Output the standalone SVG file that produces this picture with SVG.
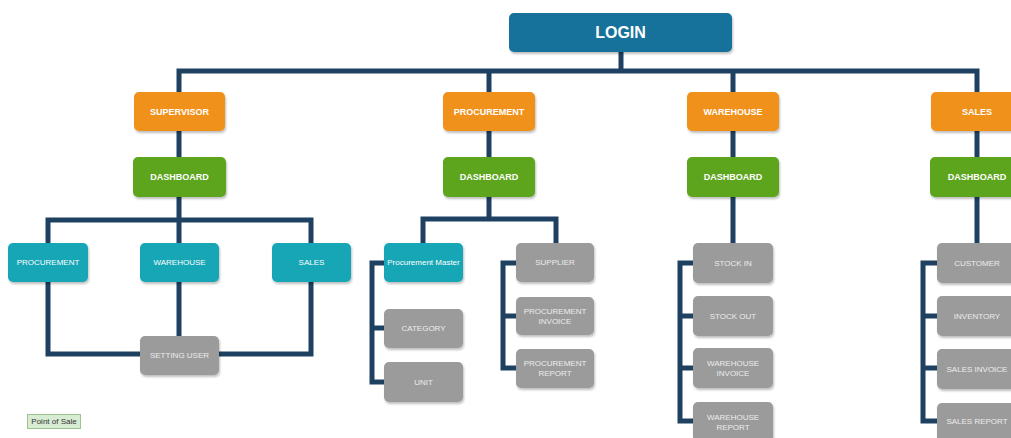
<svg xmlns="http://www.w3.org/2000/svg" width="1011" height="438" viewBox="0 0 1011 438">
<style>
.bx{stroke:none;filter:url(#sh)}
.login{fill:#13729b}
.org{fill:#f0911f}
.grn{fill:#5ba51e}
.tea{fill:#19a6b5}
.gry{fill:#9b9b9b}
.t{font-family:"Liberation Sans",Arial,sans-serif;text-anchor:middle;dominant-baseline:central}
.tb{font-size:9px;font-weight:bold;fill:#ffffff}
.tw{font-size:8px;fill:#ffffff}
.tg{font-size:8px;fill:#ececec}
.c{fill:none;stroke:#1e4161;stroke-width:5;stroke-linejoin:miter}
</style>
<defs>
<filter id="sh" x="-10%" y="-10%" width="125%" height="140%">
<feDropShadow dx="1" dy="2" stdDeviation="1.2" flood-color="#000" flood-opacity="0.25"/>
</filter>
</defs>
<rect width="1011" height="438" fill="#ffffff"/>
<g id="connectors">
<path class="c" d="M621 52V71"/>
<path class="c" d="M179 92V71H977V92M489 71V92M733 71V92"/>
<path class="c" d="M179 131V157M489 131V157M733 131V157M977 131V157"/>
<path class="c" d="M179 197V243M48 243V220H311V243"/>
<path class="c" d="M48 282V354H140M219 354H311V282M179 282V336"/>
<path class="c" d="M489 197V219M423 243V219H556V243"/>
<path class="c" d="M384 263H372V382H384M372 328H384"/>
<path class="c" d="M516 263H503V368H516M503 316H516"/>
<path class="c" d="M733 197V243M693 263H680V421H693M680 316H693M680 368H693"/>
<path class="c" d="M977 197V243M937 263H923V421H937M923 316H937M923 368H937"/>
</g>
<g id="login"><rect class="bx login" x="509" y="13" width="223" height="39" rx="5"/><text class="t" x="620.5" y="32.5" font-size="16" font-weight="bold" fill="#ffffff">LOGIN</text></g>
<g id="supervisor"><rect class="bx org" x="134" y="92" width="91" height="39" rx="5"/><text class="t tb" x="179.5" y="111.5">SUPERVISOR</text></g>
<g id="procurement"><rect class="bx org" x="443" y="92" width="92" height="39" rx="5"/><text class="t tb" x="489" y="111.5">PROCUREMENT</text></g>
<g id="warehouse"><rect class="bx org" x="687" y="92" width="92" height="39" rx="5"/><text class="t tb" x="733" y="111.5">WAREHOUSE</text></g>
<g id="sales"><rect class="bx org" x="931" y="92" width="92" height="39" rx="5"/><text class="t tb" x="977" y="111.5">SALES</text></g>
<g id="dash-sup"><rect class="bx grn" x="133" y="157" width="93" height="40" rx="5"/><text class="t tb" x="179.5" y="177">DASHBOARD</text></g>
<g id="dash-proc"><rect class="bx grn" x="443" y="157" width="92" height="40" rx="5"/><text class="t tb" x="489" y="177">DASHBOARD</text></g>
<g id="dash-wh"><rect class="bx grn" x="687" y="157" width="92" height="40" rx="5"/><text class="t tb" x="733" y="177">DASHBOARD</text></g>
<g id="dash-sales"><rect class="bx grn" x="930" y="157" width="93" height="40" rx="5"/><text class="t tb" x="977" y="177">DASHBOARD</text></g>
<g id="sup-procurement"><rect class="bx tea" x="8" y="243" width="80" height="39" rx="5"/><text class="t tw" x="48" y="262.5">PROCUREMENT</text></g>
<g id="sup-warehouse"><rect class="bx tea" x="140" y="243" width="79" height="39" rx="5"/><text class="t tw" x="179.5" y="262.5">WAREHOUSE</text></g>
<g id="sup-sales"><rect class="bx tea" x="272" y="243" width="79" height="39" rx="5"/><text class="t tw" x="311.5" y="262.5">SALES</text></g>
<g id="setting-user"><rect class="bx gry" x="140" y="336" width="79" height="39" rx="5"/><text class="t tg" x="179.5" y="355.5">SETTING USER</text></g>
<g id="proc-master"><rect class="bx tea" x="384" y="243" width="79" height="39" rx="5"/><text class="t tw" x="423.5" y="262.5">Procurement Master</text></g>
<g id="category"><rect class="bx gry" x="384" y="309" width="79" height="39" rx="5"/><text class="t tg" x="423.5" y="328.5">CATEGORY</text></g>
<g id="unit"><rect class="bx gry" x="384" y="362" width="79" height="40" rx="5"/><text class="t tg" x="423.5" y="382">UNIT</text></g>
<g id="supplier"><rect class="bx gry" x="516" y="243" width="78" height="39" rx="5"/><text class="t tg" x="555" y="262.5">SUPPLIER</text></g>
<g id="proc-invoice"><rect class="bx gry" x="516" y="297" width="78" height="38" rx="5"/><text class="t tg" x="555" y="311">PROCUREMENT</text><text class="t tg" x="555" y="321">INVOICE</text></g>
<g id="proc-report"><rect class="bx gry" x="516" y="349" width="78" height="39" rx="5"/><text class="t tg" x="555" y="363.5">PROCUREMENT</text><text class="t tg" x="555" y="373.5">REPORT</text></g>
<g id="stock-in"><rect class="bx gry" x="693" y="243" width="80" height="40" rx="5"/><text class="t tg" x="733" y="263">STOCK IN</text></g>
<g id="stock-out"><rect class="bx gry" x="693" y="296" width="80" height="40" rx="5"/><text class="t tg" x="733" y="316">STOCK OUT</text></g>
<g id="wh-invoice"><rect class="bx gry" x="693" y="348" width="80" height="40" rx="5"/><text class="t tg" x="733" y="363">WAREHOUSE</text><text class="t tg" x="733" y="373">INVOICE</text></g>
<g id="wh-report"><rect class="bx gry" x="693" y="402" width="80" height="40" rx="5"/><text class="t tg" x="733" y="417">WAREHOUSE</text><text class="t tg" x="733" y="427">REPORT</text></g>
<g id="customer"><rect class="bx gry" x="937" y="243" width="80" height="40" rx="5"/><text class="t tg" x="977" y="263">CUSTOMER</text></g>
<g id="inventory"><rect class="bx gry" x="937" y="296" width="80" height="40" rx="5"/><text class="t tg" x="977" y="316">INVENTORY</text></g>
<g id="sales-invoice"><rect class="bx gry" x="937" y="349" width="80" height="40" rx="5"/><text class="t tg" x="977" y="369">SALES INVOICE</text></g>
<g id="sales-report"><rect class="bx gry" x="937" y="403" width="80" height="40" rx="5"/><text class="t tg" x="977" y="421">SALES REPORT</text></g>
<g id="pos-label"><rect x="27.5" y="414.5" width="53" height="14" fill="#d8ecd4" stroke="#9cc48e" stroke-width="1"/><text class="t" x="54" y="421.5" font-size="8" fill="#333333">Point of Sale</text></g>
</svg>
